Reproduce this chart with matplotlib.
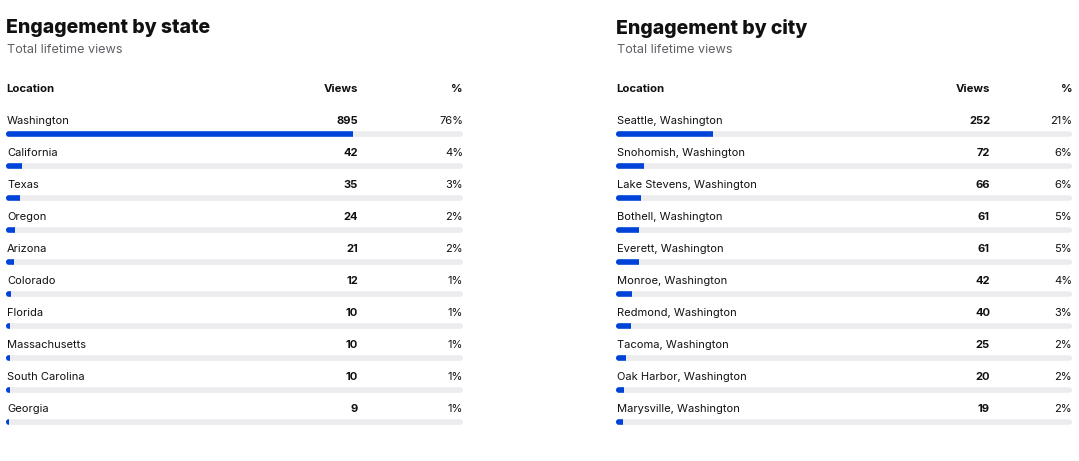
import matplotlib
matplotlib.use("Agg")
import matplotlib.pyplot as plt
from matplotlib.patches import FancyBboxPatch, Rectangle

plt.rcParams['font.family'] = ['Inter', 'DejaVu Sans']

# state table
state_names = ['Washington', 'California', 'Texas', 'Oregon', 'Arizona',
               'Colorado', 'Florida', 'Massachusetts', 'South Carolina', 'Georgia']
state_views = [895, 42, 35, 24, 21, 12, 10, 10, 10, 9]
state_pct = [76, 4, 3, 2, 2, 1, 1, 1, 1, 1]
state_total = 1178

# city table
city_names = ['Seattle, Washington', 'Snohomish, Washington', 'Lake Stevens, Washington',
              'Bothell, Washington', 'Everett, Washington', 'Monroe, Washington',
              'Redmond, Washington', 'Tacoma, Washington', 'Oak Harbor, Washington',
              'Marysville, Washington']
city_views = [252, 72, 66, 61, 61, 42, 40, 25, 20, 19]
city_pct = [21, 6, 6, 5, 5, 4, 3, 2, 2, 2]
city_total = 1190

BLUE = '#0043d9'
TRACK = '#ececee'
INK = '#111111'
GREY = '#5f6166'

W, H = 1079, 461
fig = plt.figure(figsize=(W / 100, H / 100), dpi=100)
ax = fig.add_axes([0, 0, 1, 1])
ax.set_xlim(0, W)
ax.set_ylim(H, 0)
ax.axis('off')


def panel(x0, x1, xviews, title, names, views, pct, total):
    ax.text(x0, 28, title, fontsize=14, fontweight='heavy', color=INK,
            ha='left', va='center')
    ax.text(x0 + 1, 50, 'Total lifetime views', fontsize=9.1, color=GREY,
            ha='left', va='center')
    hdr = dict(fontsize=8.2, fontweight='bold', color=INK, va='center')
    ax.text(x0, 89, 'Location', ha='left', **hdr)
    ax.text(xviews, 89, 'Views', ha='right', **hdr)
    ax.text(x1, 89, '%', ha='right', **hdr)
    width = x1 - x0
    bh = 5.6
    r = bh / 2
    for i, (name, v, p) in enumerate(zip(names, views, pct)):
        yt = 121 + 32 * i
        yb = yt + 13
        ax.text(x0 + 1, yt, name, fontsize=8, color=INK, ha='left', va='center')
        ax.text(xviews, yt, f'{v}', fontsize=8, fontweight='bold', color=INK,
                ha='right', va='center')
        ax.text(x1, yt, f'{p}%', fontsize=8, color=INK, ha='right', va='center')
        track = FancyBboxPatch((x0 + r, yb - bh / 2 + r), width - 2 * r, bh - 2 * r,
                               boxstyle=f'round,pad={r}', fc=TRACK, ec='none')
        ax.add_patch(track)
        fill = Rectangle((x0, yb - bh / 2), width * v / total, bh, fc=BLUE, ec='none')
        ax.add_patch(fill)
        fill.set_clip_path(track)


panel(6, 463, 358, 'Engagement by state', state_names, state_views, state_pct, state_total)
panel(616, 1072, 990, 'Engagement by city', city_names, city_views, city_pct, city_total)

fig.savefig('out.png', dpi=100)
